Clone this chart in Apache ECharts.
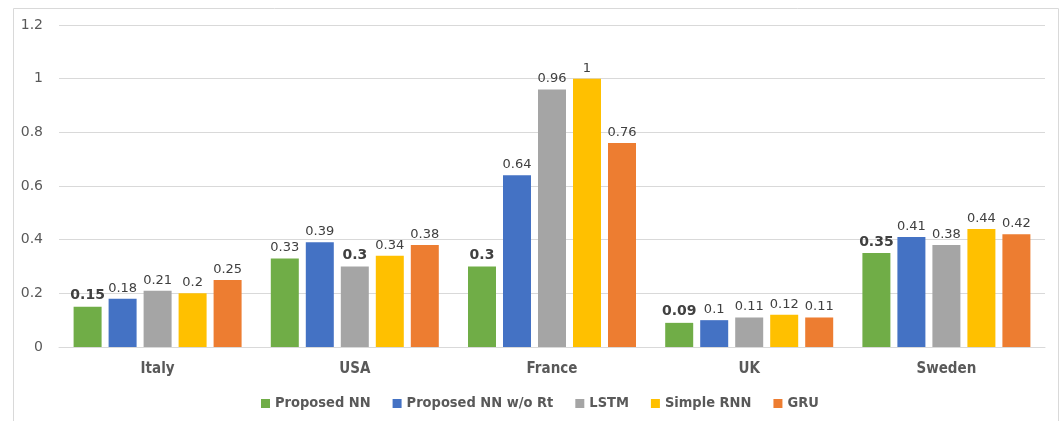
<!DOCTYPE html>
<html>
<head>
<meta charset="utf-8">
<script src="https://cdn.jsdelivr.net/npm/echarts@6/dist/echarts.min.js"></script>
<style>
  html, body { margin: 0; padding: 0; background: #fff; }
  #chart { width: 1062px; height: 421px; }
</style>
</head>
<body>
<div id="chart"></div>
<script>
// Countries on the x axis
var countries = ['Italy', 'USA', 'France', 'UK', 'Sweden'];

// Model names (legend order)
var models = ['Proposed NN', 'Proposed NN w/o Rt', 'LSTM', 'Simple RNN', 'GRU'];

// Error per model, one value per country
var proposedNN      = [0.15, 0.33, 0.3, 0.09, 0.35];
var proposedNNnoRt  = [0.18, 0.39, 0.64, 0.1, 0.41];
var lstm            = [0.21, 0.3, 0.96, 0.11, 0.38];
var simpleRNN       = [0.2, 0.34, 1, 0.12, 0.44];
var gru             = [0.25, 0.38, 0.76, 0.11, 0.42];

// Y axis ticks
var yTicks = [0, 0.2, 0.4, 0.6, 0.8, 1, 1.2];

var colors = ['#70ad47', '#4472c4', '#a5a5a5', '#ffc000', '#ed7d31'];
var allSeries = [proposedNN, proposedNNnoRt, lstm, simpleRNN, gru];

// lowest value in each country gets a bold label
var bestPerCountry = countries.map(function (c, i) {
  return Math.min.apply(null, allSeries.map(function (s) { return s[i]; }));
});

var NUM_FONT = 'DejaVu Sans';
var TEXT_FONT = 'DejaVu Sans Condensed';

var chart = echarts.init(document.getElementById('chart'), null, { renderer: 'canvas' });

var series = models.map(function (name, k) {
  return {
    name: name,
    type: 'bar',
    barWidth: 28,
    barGap: '25%',
    itemStyle: { color: colors[k] },
    label: {
      show: true,
      position: 'top',
      distance: 4,
      color: '#404040',
      fontFamily: NUM_FONT,
      fontSize: 13
    },
    data: allSeries[k].map(function (v, i) {
      var d = { value: v };
      if (v === bestPerCountry[i]) {
        d.label = { fontWeight: 'bold', fontSize: 14, color: '#404040' };
      }
      return d;
    })
  };
});

chart.setOption({
  animation: false,
  color: colors,
  graphic: [{
    type: 'rect',
    shape: { x: 13.5, y: 8.5, width: 1045, height: 420 },
    style: { fill: 'none', stroke: '#d9d9d9', lineWidth: 1 },
    silent: true
  }],
  grid: { left: 59, right: 17, top: 25, bottom: 74, containLabel: false },
  legend: {
    data: models,
    top: 391,
    left: 256,
    itemWidth: 9,
    itemHeight: 9,
    itemGap: 22,
    icon: 'rect',
    textStyle: {
      fontFamily: TEXT_FONT,
      fontWeight: 'bold',
      fontSize: 14.5,
      color: '#595959'
    }
  },
  xAxis: {
    type: 'category',
    data: countries,
    axisLine: { lineStyle: { color: '#d9d9d9' } },
    axisTick: { show: false },
    axisLabel: {
      margin: 15,
      fontFamily: TEXT_FONT,
      fontWeight: 'bold',
      fontSize: 15,
      color: '#595959'
    }
  },
  yAxis: {
    type: 'value',
    min: yTicks[0],
    max: yTicks[yTicks.length - 1],
    interval: 0.2,
    axisLine: { show: false },
    axisTick: { show: false },
    splitLine: { lineStyle: { color: '#d9d9d9' } },
    axisLabel: {
      margin: 16,
      fontFamily: NUM_FONT,
      fontSize: 14,
      color: '#595959'
    }
  },
  series: series
});
</script>
</body>
</html>
